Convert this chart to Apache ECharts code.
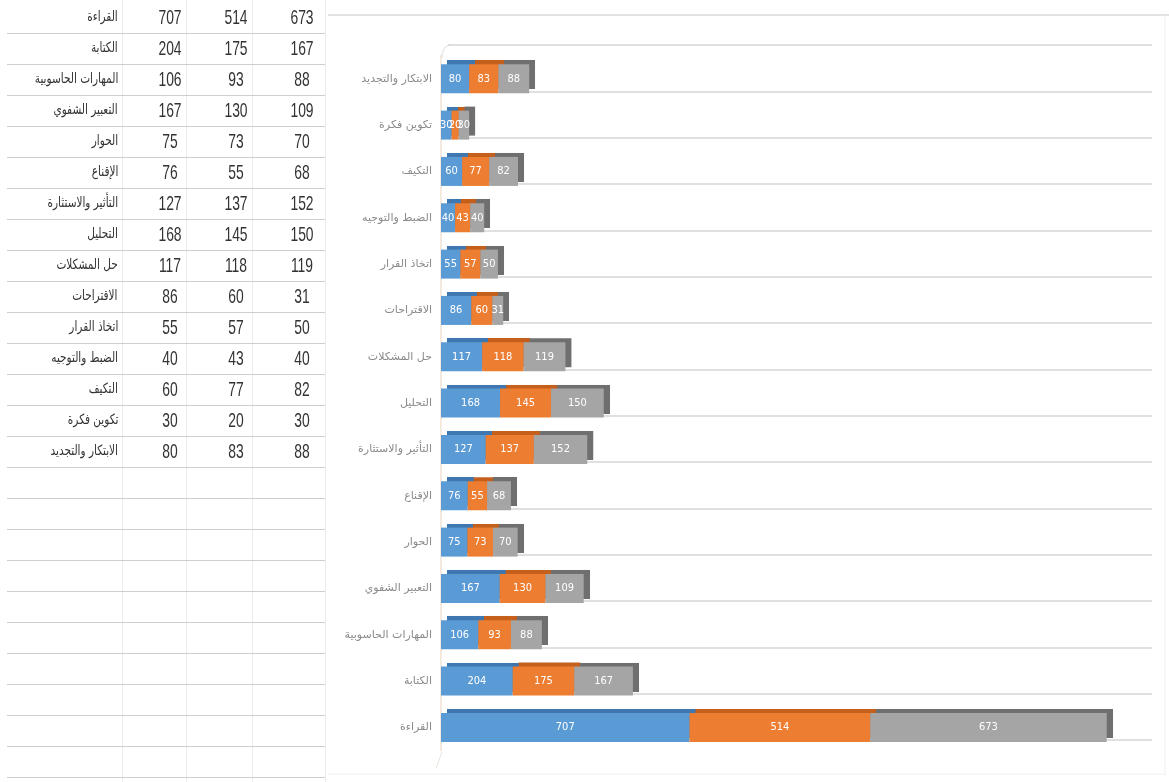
<!DOCTYPE html>
<html><head><meta charset="utf-8">
<script src="https://cdn.jsdelivr.net/npm/echarts@6/dist/echarts.min.js"></script>
<style>
html,body{margin:0;padding:0;background:#fff;}
#chart{position:absolute;left:0;top:0;width:1169px;height:782px;}
#table{position:absolute;left:0;top:0;width:330px;height:782px;}
.hl{position:absolute;left:7px;width:318px;height:1px;background:#cfcfcf;}
.vl{position:absolute;top:0;width:1px;height:782px;background:#ededed;}
.nm{position:absolute;right:212px;font-family:"DejaVu Sans",sans-serif;font-size:14px;color:#333;white-space:nowrap;direction:rtl;transform-origin:right center;transform:scaleX(0.75);}
.nu{position:absolute;width:60px;text-align:center;font-family:"Liberation Sans",sans-serif;font-size:21px;color:#333;transform:scaleX(0.66);}
</style></head>
<body>
<div id="chart"></div>
<div id="table"></div>
<script>
const categories = ['القراءة','الكتابة','المهارات الحاسوبية','التعبير الشفوي','الحوار','الإقناع','التأثير والاستثارة','التحليل','حل المشكلات','الاقتراحات','اتخاذ القرار','الضبط والتوجيه','التكيف','تكوين فكرة','الابتكار والتجديد'];
const series1 = [707,204,106,167,75,76,127,168,117,86,55,40,60,30,80];
const series2 = [514,175,93,130,73,55,137,145,118,60,57,43,77,20,83];
const series3 = [673,167,88,109,70,68,152,150,119,31,50,40,82,30,88];
const axisMax = 2000;

// spreadsheet table
const tbl = document.getElementById('table');
const rowH = 31, rowTop = 2, totalRows = 25;
[122,186,252,325].forEach(x=>{const d=document.createElement('div');d.className='vl';d.style.left=x+'px';d.style.top='0px';tbl.appendChild(d);});
for(let k=1;k<=totalRows;k++){const d=document.createElement('div');d.className='hl';d.style.top=(rowTop+rowH*k)+'px';tbl.appendChild(d);}
const numCenters=[170,236,302];
categories.forEach((c,i)=>{
  const yc = rowTop + rowH*i + rowH/2;
  const n=document.createElement('div');n.className='nm';n.textContent=c;n.style.top=(yc-10)+'px';tbl.appendChild(n);
  [series1[i],series2[i],series3[i]].forEach((v,j)=>{
    const e=document.createElement('div');e.className='nu';e.textContent=v;e.style.left=(numCenters[j]-30)+'px';e.style.top=(yc-13)+'px';tbl.appendChild(e);
  });
});

const chart = echarts.init(document.getElementById('chart'));
const lblFont = '"Liberation Sans Narrow","DejaVu Sans Condensed",sans-serif';
function mk(name,data,color,shade){
  return {name,type:'bar',stack:'t',data,barWidth:29,xAxisIndex:0,yAxisIndex:0,
    itemStyle:{color,shadowColor:shade,shadowOffsetX:6,shadowOffsetY:-4,shadowBlur:0.5},
    label:{show:true,position:'inside',color:'#fff',fontSize:11,fontFamily:lblFont}};
}
chart.setOption({
  animation:false,
  graphic:[
    {type:'line',shape:{x1:328,y1:15,x2:1169,y2:15},style:{stroke:'#d9d9d9',lineWidth:1.5},silent:true},
    {type:'line',shape:{x1:1165,y1:15,x2:1165,y2:775},style:{stroke:'#f0f0f0',lineWidth:1},silent:true},
    {type:'line',shape:{x1:328,y1:774,x2:1165,y2:774},style:{stroke:'#f0f0f0',lineWidth:1},silent:true},
    {type:'line',shape:{x1:442,y1:752,x2:436,y2:768},style:{stroke:'#ebe3dc',lineWidth:1},silent:true},
    {type:'bezierCurve',shape:{x1:442,y1:58,x2:452,y2:45,cpx1:442,cpy1:45},style:{stroke:'#e3e3e3',fill:null,lineWidth:1.2},silent:true}
  ],
  grid:[
    {left:441,top:55.6,width:703,height:695},
    {left:448,top:45,width:704,height:695}
  ],
  xAxis:[
    {type:'value',gridIndex:0,min:0,max:axisMax,show:false},
    {type:'value',gridIndex:1,min:0,max:axisMax,show:false}
  ],
  yAxis:[
    {type:'category',gridIndex:0,data:categories,
     axisLine:{show:true,lineStyle:{color:'#f1e2d5',width:1.5}},axisTick:{show:false},splitLine:{show:false},
     axisLabel:{color:'#8a8a8a',fontSize:11,fontFamily:'"DejaVu Sans",sans-serif',margin:9}},
    {type:'category',gridIndex:1,data:categories,
     axisLine:{show:false},axisTick:{show:false},axisLabel:{show:false},
     splitLine:{show:true,lineStyle:{color:'#d6d6d6',width:1.5}}}
  ],
  series:[
    mk('1',series1,'#5b9bd5','#3f78b0'),
    mk('2',series2,'#ed7d31','#c45f1c'),
    mk('3',series3,'#a5a5a5','#6f6f6f')
  ]
});
</script>
</body></html>
